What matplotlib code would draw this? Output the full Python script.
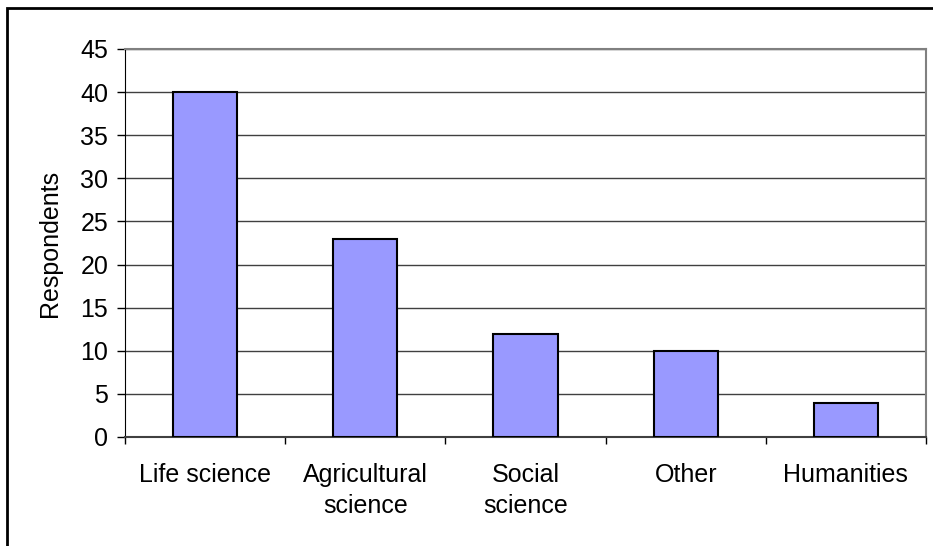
import numpy as np
import matplotlib.pyplot as plt
from matplotlib.patches import Rectangle

plt.rcParams['font.family'] = ['Liberation Sans', 'DejaVu Sans']

categories = ['Life science', 'Agricultural\nscience', 'Social\nscience', 'Other', 'Humanities']
respondents = [40, 23, 12, 10, 4]
yticks = [0, 5, 10, 15, 20, 25, 30, 35, 40, 45]

fig = plt.figure(figsize=(9.33, 5.46), dpi=100)
W, H = 933, 546
ax = fig.add_axes([125 / W, 1 - 437 / H, (926 - 125) / W, (437 - 49) / H])

# outer chart border (only left and top visible)
fig.patches.append(Rectangle((7 / W, -0.1), 1.2, 1 - 8 / H + 0.1, transform=fig.transFigure,
                             fill=False, edgecolor='black', linewidth=2))

x = np.arange(len(categories))
ax.bar(x, respondents, width=0.4, color='#9999ff', edgecolor='black', linewidth=1.5, zorder=3)

ax.set_xlim(-0.5, len(categories) - 0.5)
ax.set_ylim(0, 45)
ax.set_yticks(yticks)
ax.yaxis.grid(True, color='#404040', linewidth=1)
ax.set_axisbelow(True)

ax.set_xticks(np.arange(len(categories) + 1) - 0.5)
ax.set_xticklabels([])
ax.set_xticks(x, minor=True)
ax.set_xticklabels(categories, minor=True, fontsize=18, linespacing=1.35)
ax.tick_params(axis='x', which='minor', length=0, pad=19)
ax.tick_params(axis='x', which='major', length=5, width=1, direction='out')
ax.tick_params(axis='y', length=6, width=1, labelsize=18, pad=6)

ax.spines['top'].set_color('#808080')
ax.spines['right'].set_color('#808080')
ax.spines['right'].set_linewidth(1.5)
ax.spines['top'].set_linewidth(1.5)
ax.spines['left'].set_color('black')
ax.spines['bottom'].set_color('#404040')
ax.spines['bottom'].set_linewidth(1.5)

ax.set_ylabel('Respondents', fontsize=18, labelpad=13)

fig.savefig('out.png', dpi=100)
